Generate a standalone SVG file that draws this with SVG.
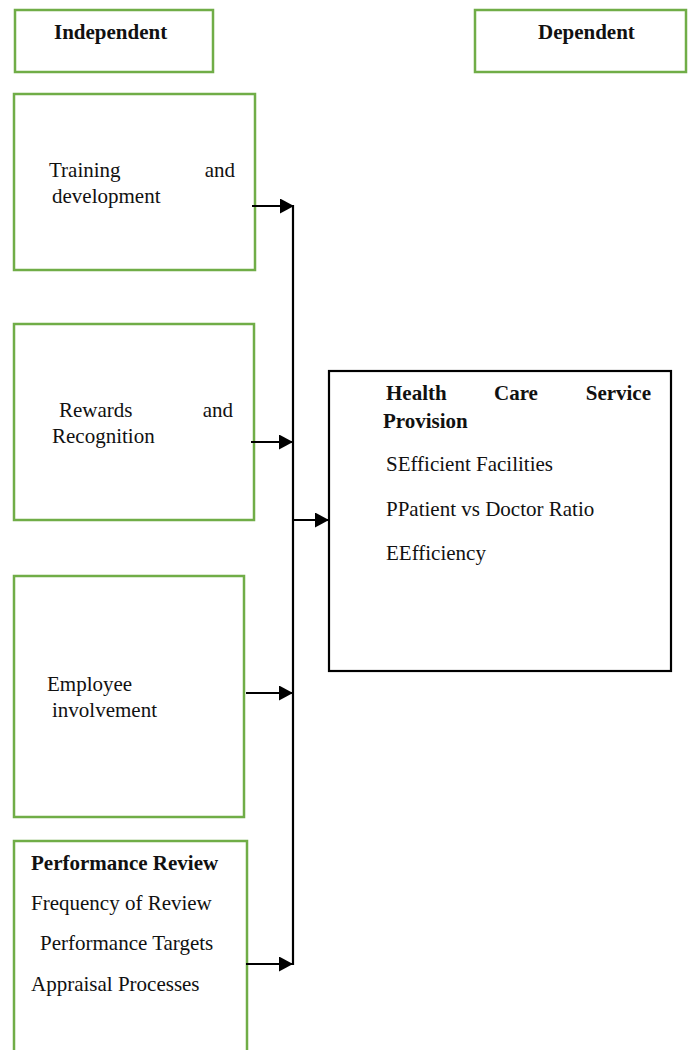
<svg xmlns="http://www.w3.org/2000/svg" width="693" height="1050" viewBox="0 0 693 1050">
<style>
.g{fill:#fff;stroke:#70AD47;stroke-width:2.5}
.b{fill:#fff;stroke:#000;stroke-width:2.2}
.t{font-family:"Liberation Serif","Times New Roman",serif;font-size:21px;fill:#111}
.bd{font-weight:bold}
.c{fill:none;stroke:#000;stroke-width:2.2}
</style>
<defs>
<marker id="ah" markerUnits="userSpaceOnUse" markerWidth="16" markerHeight="16" refX="14" refY="7.5" orient="auto">
<path d="M0,0 L14,7.5 L0,15 Z" fill="#000"/>
</marker>
</defs>
<rect width="693" height="1050" fill="#fff"/>
<g id="independent">
<rect class="g" x="15" y="10" width="198" height="62"/>
<text class="t bd" x="54" y="39">Independent</text>
</g>
<g id="dependent">
<rect class="g" x="475" y="10" width="211" height="62"/>
<text class="t bd" x="538" y="39">Dependent</text>
</g>
<g id="training">
<rect class="g" x="14" y="94" width="241" height="176"/>
<text class="t" x="49" y="177">Training</text>
<text class="t" x="235" y="177" text-anchor="end">and</text>
<text class="t" x="52" y="203">development</text>
</g>
<g id="rewards">
<rect class="g" x="14" y="324" width="240" height="196"/>
<text class="t" x="59" y="417">Rewards</text>
<text class="t" x="233" y="417" text-anchor="end">and</text>
<text class="t" x="52" y="443">Recognition</text>
</g>
<g id="employee">
<rect class="g" x="14" y="576" width="230" height="241"/>
<text class="t" x="47" y="691">Employee</text>
<text class="t" x="52" y="717">involvement</text>
</g>
<g id="performance">
<rect class="g" x="14" y="841" width="233" height="215"/>
<text class="t bd" x="31" y="870">Performance Review</text>
<text class="t" x="31" y="910">Frequency of Review</text>
<text class="t" x="40" y="950">Performance Targets</text>
<text class="t" x="31" y="991">Appraisal Processes</text>
</g>
<g id="health">
<rect class="b" x="329" y="371" width="342" height="300"/>
<text class="t bd" x="386" y="400">Health</text>
<text class="t bd" x="494" y="400">Care</text>
<text class="t bd" x="651" y="400" text-anchor="end">Service</text>
<text class="t bd" x="383" y="428">Provision</text>
<text class="t" x="386" y="471">SEfficient Facilities</text>
<text class="t" x="386" y="516">PPatient vs Doctor Ratio</text>
<text class="t" x="386" y="560">EEfficiency</text>
</g>
<g id="connectors">
<line class="c" x1="293" y1="205" x2="293" y2="965"/>
<line class="c" x1="252" y1="206" x2="294" y2="206" marker-end="url(#ah)"/>
<line class="c" x1="251" y1="442" x2="293" y2="442" marker-end="url(#ah)"/>
<line class="c" x1="246" y1="693" x2="293" y2="693" marker-end="url(#ah)"/>
<line class="c" x1="246" y1="964" x2="293" y2="964" marker-end="url(#ah)"/>
<line class="c" x1="293" y1="520" x2="329" y2="520" marker-end="url(#ah)"/>
</g>
</svg>
